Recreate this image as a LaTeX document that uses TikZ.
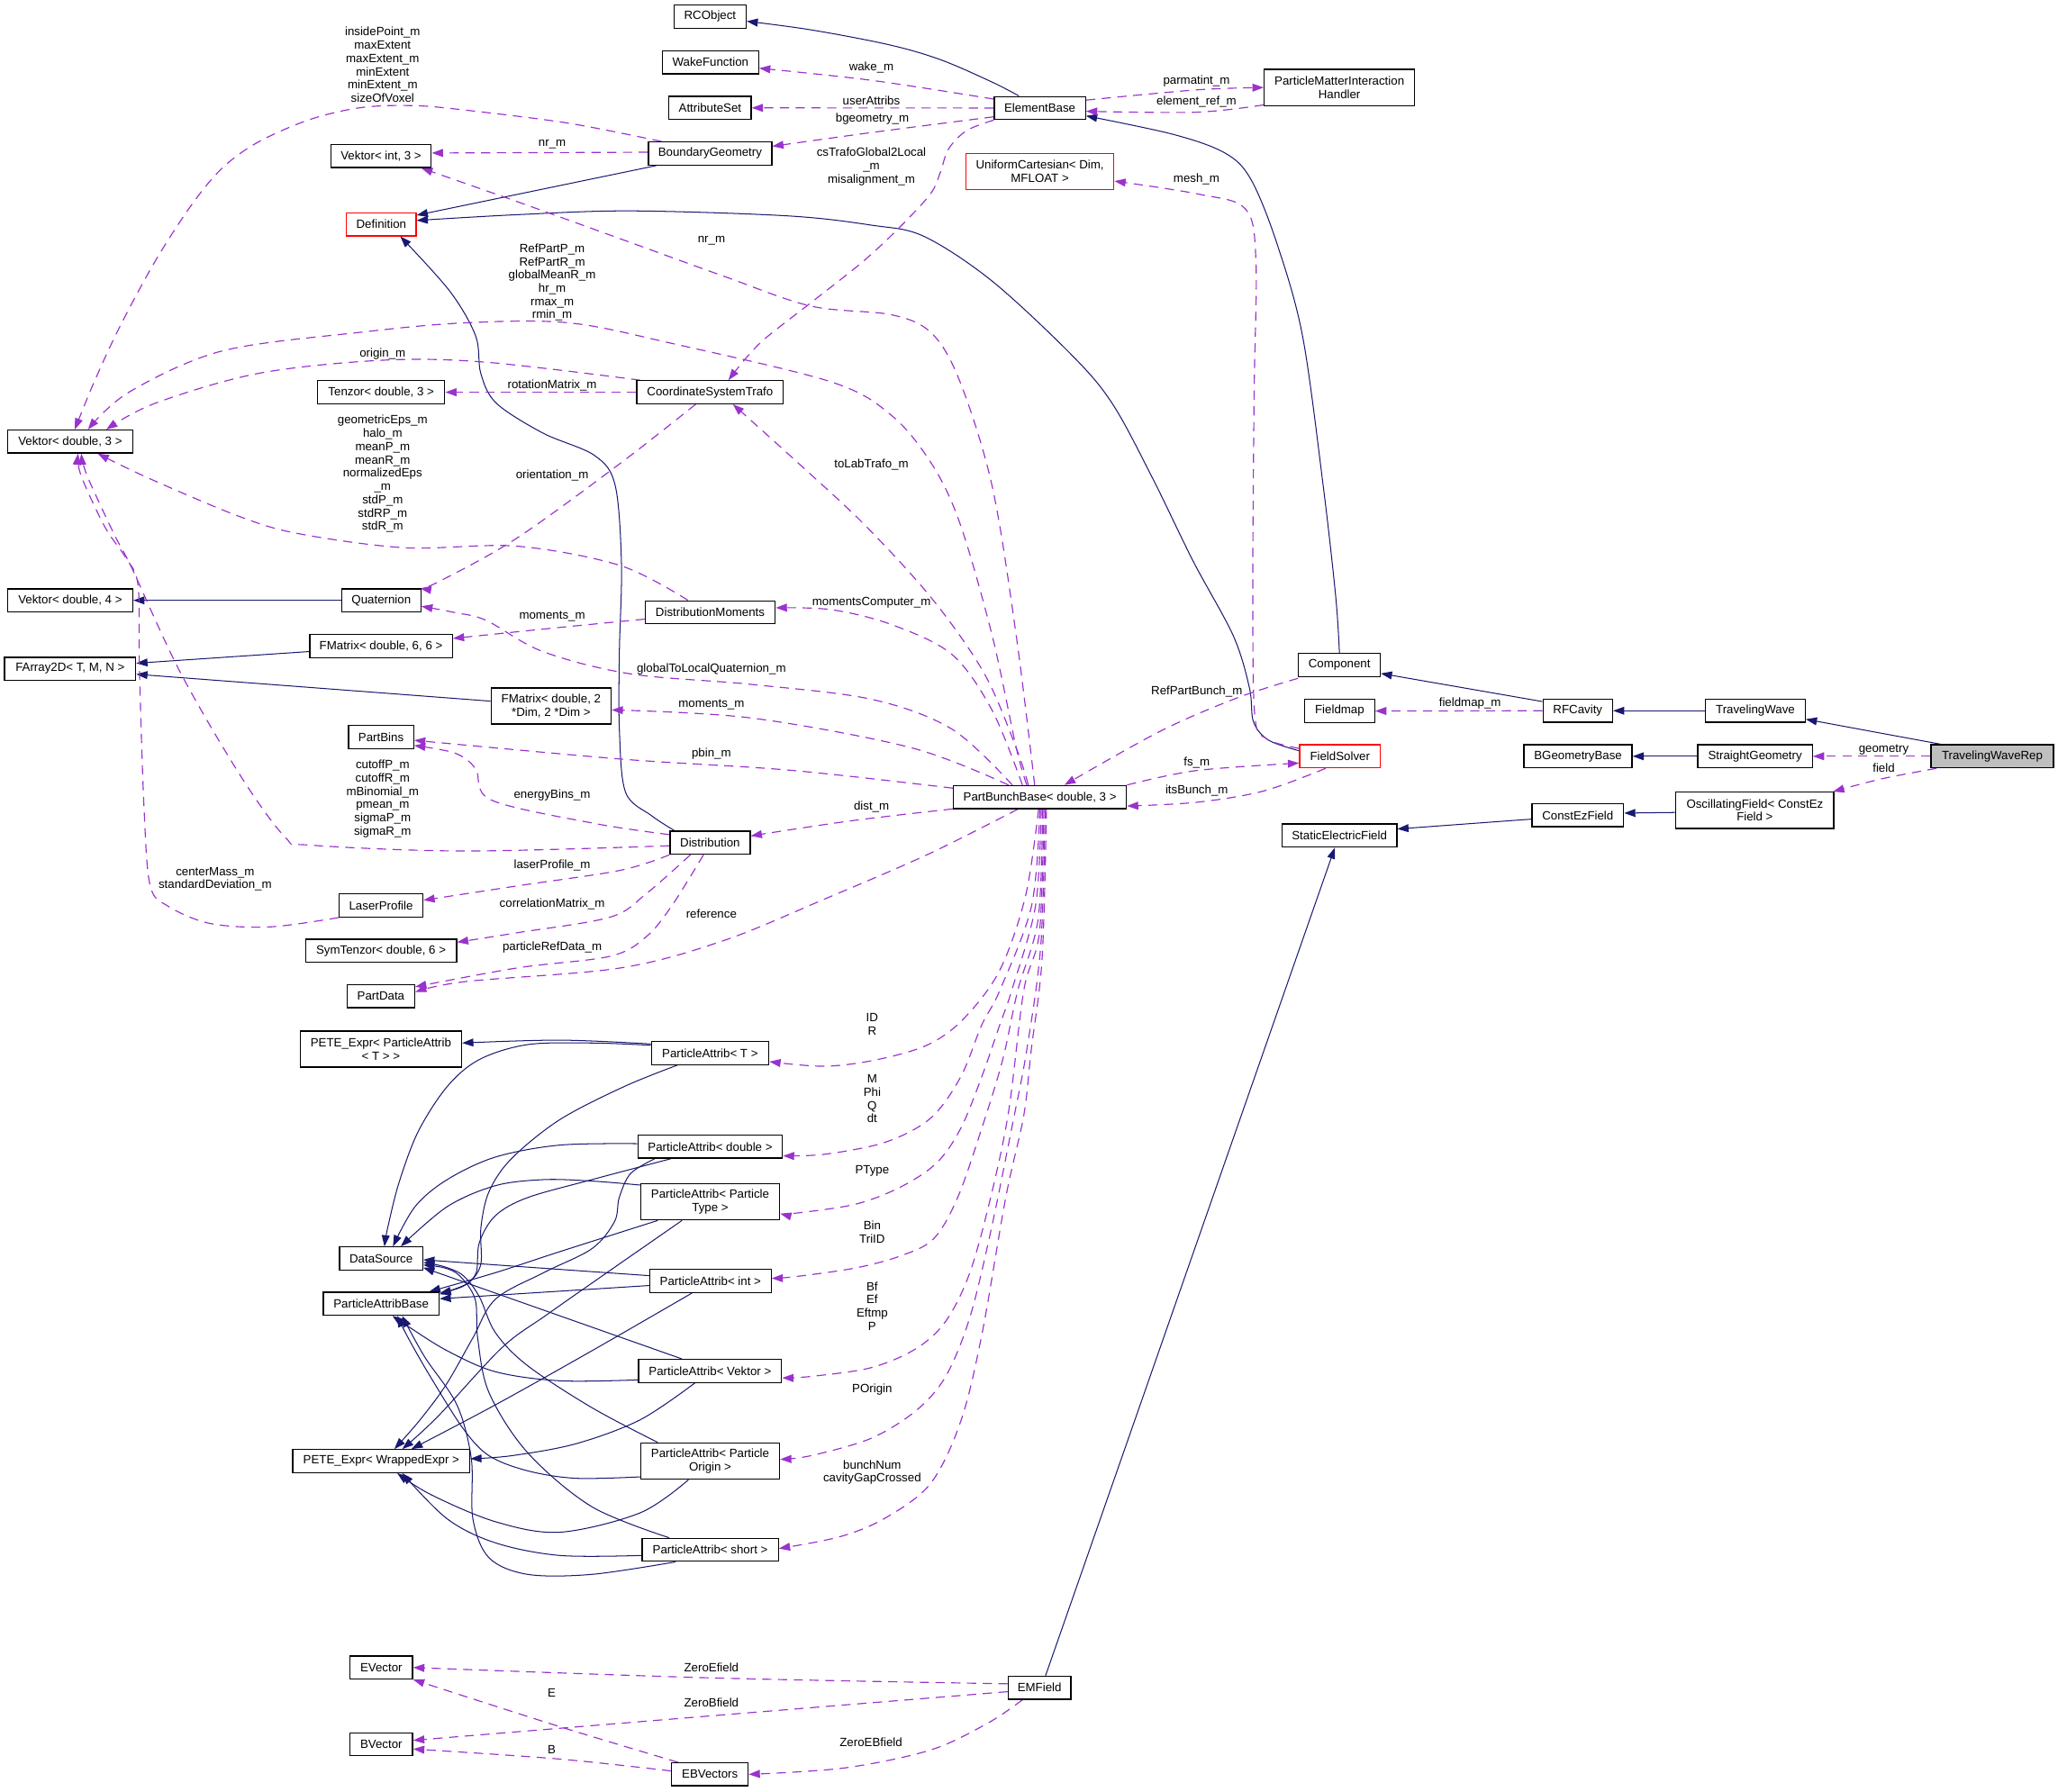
\documentclass[tikz,border=0pt]{standalone}
\usepackage{fontspec}
\setmainfont{Liberation Sans}
\usetikzlibrary{arrows.meta,calc}
\definecolor{navy}{HTML}{191970}
\definecolor{orch}{HTML}{9A32CD}
\definecolor{grayfill}{HTML}{BFBFBF}
\newcommand\dxfont{\fontsize{9.12}{10.1}\selectfont}
\pgfdeclarelayer{edgelayer}
\pgfdeclarelayer{bglayer}
\pgfsetlayers{bglayer,edgelayer,main}
\tikzset{
  box/.style={draw=black, line width=0.9pt, fill=white, inner sep=0pt, minimum height=17.5pt, align=center, font=\dxfont},
  boxtwo/.style={box, minimum height=27.6pt},
  redbox/.style={box, draw=red},
  redboxtwo/.style={boxtwo, draw=red},
  lbl/.style={inner sep=0pt, align=center, font=\dxfont},
  inh/.style={draw=navy, line width=0.7pt, -{Triangle[length=8.5pt,width=6pt]}},
  dep/.style={draw=orch, line width=0.8pt, dash pattern=on 7pt off 5pt, -{Triangle[length=8.5pt,width=6pt]}},
  sm/.style={smooth, tension=0.55}
}
\begin{document}
\begin{tikzpicture}[x=1pt,y=-1pt]
\begin{pgfonlayer}{bglayer}
\fill[white] (0,0) rectangle (1568,1365);
\end{pgfonlayer}
\useasboundingbox (0,0) rectangle (1568,1365);

% ---------------- nodes ----------------
\node[box, minimum width=54.8pt] (rco) at (541,12.7) {RCObject};
\node[box, minimum width=73.3pt] (wake) at (541.3,47.5) {WakeFunction};
\node[box, minimum width=62.6pt] (attr) at (541,82.2) {AttributeSet};
\node[box, minimum width=94pt] (bgeo) at (541,117) {BoundaryGeometry};
\node[box, minimum width=69.4pt] (eb) at (792.3,82.3) {ElementBase};
\node[boxtwo, minimum width=114.6pt] (pmih) at (1020.5,66.7) {ParticleMatterInteraction\\Handler};
\node[box, minimum width=76.5pt] (vi3) at (290.3,118.9) {Vektor< int, 3 >};
\node[redbox, minimum width=53pt] (def) at (290.5,171) {Definition};
\node[redboxtwo, minimum width=112.7pt] (uc) at (792.3,130.7) {UniformCartesian< Dim,\\MFLOAT >};
\node[box, minimum width=96.9pt] (ten) at (290.4,298.9) {Tenzor< double, 3 >};
\node[box, minimum width=111.5pt] (cst) at (541,298.9) {CoordinateSystemTrafo};
\node[box, minimum width=95.3pt] (vd3) at (53.5,336.5) {Vektor< double, 3 >};
\node[box, minimum width=95.3pt] (vd4) at (53.5,457.5) {Vektor< double, 4 >};
\node[box, minimum width=60.2pt] (quat) at (290.5,457.5) {Quaternion};
\node[box, minimum width=99pt] (dm) at (541.1,466.6) {DistributionMoments};
\node[box, minimum width=108.7pt] (fm66) at (290.3,492.3) {FMatrix< double, 6, 6 >};
\node[box, minimum width=100pt] (fa) at (53.4,509.6) {FArray2D< T, M, N >};
\node[boxtwo, minimum width=91.4pt] (fm2) at (419.9,538) {FMatrix< double, 2\\ *Dim, 2 *Dim >};
\node[box, minimum width=62.2pt] (comp) at (1020.5,506.7) {Component};
\node[box, minimum width=53pt] (rfc) at (1202.1,541.6) {RFCavity};
\node[box, minimum width=75.9pt] (tw) at (1337.4,541.6) {TravelingWave};
\node[box, minimum width=53.2pt] (fmap) at (1020.7,541.8) {Fieldmap};
\node[redbox, minimum width=61.4pt] (fs) at (1020.9,576.3) {FieldSolver};
\node[box, minimum width=82.3pt] (bgb) at (1202.3,576.3) {BGeometryBase};
\node[box, minimum width=87.2pt] (sg) at (1337.2,576.3) {StraightGeometry};
\node[box, fill=grayfill, minimum width=93.3pt] (twr) at (1517.9,576.3) {TravelingWaveRep};
\node[box, minimum width=49.6pt] (pbins) at (290.3,561.6) {PartBins};
\node[box, minimum width=131.9pt] (pbb) at (792.3,607.4) {PartBunchBase< double, 3 >};
\node[boxtwo, minimum width=120.3pt] (osc) at (1337,617.5) {OscillatingField< ConstEz\\Field >};
\node[box, minimum width=69.8pt] (cez) at (1202.1,621.2) {ConstEzField};
\node[box, minimum width=87.4pt] (sef) at (1020.5,636.7) {StaticElectricField};
\node[box, minimum width=61.1pt] (dist) at (541,642.2) {Distribution};
\node[box, minimum width=63.8pt] (lp) at (290.3,690) {LaserProfile};
\node[box, minimum width=115pt] (sym) at (290.3,724.5) {SymTenzor< double, 6 >};
\node[box, minimum width=51.4pt] (pdata) at (290.2,759.2) {PartData};
\node[boxtwo, minimum width=123pt] (petet) at (290.2,799.4) {PETE\_Expr< ParticleAttrib\\< T > >};
\node[box, minimum width=89.5pt] (pat) at (541,802.5) {ParticleAttrib< T >};
\node[box, minimum width=110pt] (pad) at (541.1,873.8) {ParticleAttrib< double >};
\node[boxtwo, minimum width=105.8pt] (ptype) at (541.1,915.8) {ParticleAttrib< Particle\\Type >};
\node[box, minimum width=63.3pt] (ds) at (290.4,959) {DataSource};
\node[box, minimum width=92.4pt] (pai) at (541.3,976.1) {ParticleAttrib< int >};
\node[box, minimum width=88.3pt] (pab) at (290.4,993.5) {ParticleAttribBase};
\node[box, minimum width=109pt] (pav) at (541,1044.7) {ParticleAttrib< Vektor >};
\node[box, minimum width=134.8pt] (pw) at (290.5,1113.4) {PETE\_Expr< WrappedExpr >};
\node[boxtwo, minimum width=105.8pt] (pao) at (541.1,1113.4) {ParticleAttrib< Particle\\Origin >};
\node[box, minimum width=103.8pt] (pas) at (541.1,1181) {ParticleAttrib< short >};
\node[box, minimum width=47.7pt] (ev) at (290.5,1270.7) {EVector};
\node[box, minimum width=47.7pt] (emf) at (792,1286.1) {EMField};
\node[box, minimum width=47.7pt] (bv) at (290.5,1329.2) {BVector};
\node[box, minimum width=58.2pt] (ebv) at (540.9,1352.1) {EBVectors};

% ---------------- labels ----------------
\node[lbl] (l1) at (663.9,51.5) {wake\_m};
\node[lbl] (l2) at (663.9,76.5) {userAttribs};
\node[lbl] (l3) at (664.6,90.4) {bgeometry\_m};
\node[lbl] (l4) at (911.6,62) {parmatint\_m};
\node[lbl] (l5) at (911.6,77.4) {element\_ref\_m};
\node[lbl] (l6) at (663.9,126.9) {csTrafoGlobal2Local\\\_m\\misalignment\_m};
\node[lbl] (l7) at (911.6,136.5) {mesh\_m};
\node[lbl] (l8) at (420.7,109.8) {nr\_m};
\node[lbl] (l9) at (291.5,49.4) {insidePoint\_m\\maxExtent\\maxExtent\_m\\minExtent\\minExtent\_m\\sizeOfVoxel};
\node[lbl] (l10) at (542.1,183.4) {nr\_m};
\node[lbl] (l11) at (420.7,215.2) {RefPartP\_m\\RefPartR\_m\\globalMeanR\_m\\hr\_m\\rmax\_m\\rmin\_m};
\node[lbl] (l12) at (291.5,269.6) {origin\_m};
\node[lbl] (l13) at (420.7,293.5) {rotationMatrix\_m};
\node[lbl] (l14) at (663.9,353.8) {toLabTrafo\_m};
\node[lbl] (l15) at (291.5,361.2) {geometricEps\_m\\halo\_m\\meanP\_m\\meanR\_m\\normalizedEps\\\_m\\stdP\_m\\stdRP\_m\\stdR\_m};
\node[lbl] (l16) at (420.7,362) {orientation\_m};
\node[lbl] (l17) at (664,458.9) {momentsComputer\_m};
\node[lbl] (l18) at (420.7,469.7) {moments\_m};
\node[lbl] (l19) at (542,510.2) {globalToLocalQuaternion\_m};
\node[lbl] (l20) at (911.8,526.9) {RefPartBunch\_m};
\node[lbl] (l21) at (1120,536) {fieldmap\_m};
\node[lbl] (l22) at (542,537.3) {moments\_m};
\node[lbl] (l23) at (1435.2,571.1) {geometry};
\node[lbl] (l24) at (542,574.5) {pbin\_m};
\node[lbl] (l25) at (911.8,581.2) {fs\_m};
\node[lbl] (l26) at (1435.2,585.1) {field};
\node[lbl] (l27) at (291.5,608.7) {cutoffP\_m\\cutoffR\_m\\mBinomial\_m\\pmean\_m\\sigmaP\_m\\sigmaR\_m};
\node[lbl] (l28) at (911.8,602.8) {itsBunch\_m};
\node[lbl] (l29) at (420.7,606) {energyBins\_m};
\node[lbl] (l30) at (664,614.8) {dist\_m};
\node[lbl] (l31) at (420.7,659.3) {laserProfile\_m};
\node[lbl] (l32) at (163.9,669.9) {centerMass\_m\\standardDeviation\_m};
\node[lbl] (l33) at (420.7,688.8) {correlationMatrix\_m};
\node[lbl] (l34) at (542,696.2) {reference};
\node[lbl] (l35) at (420.7,721.8) {particleRefData\_m};
\node[lbl] (l36) at (664.5,780.5) {ID\\R};
\node[lbl] (l37) at (664.5,837.4) {M\\Phi\\Q\\dt};
\node[lbl] (l38) at (664.5,892.4) {PType};
\node[lbl] (l39) at (664.5,938.8) {Bin\\TriID};
\node[lbl] (l40) at (664.5,995.2) {Bf\\Ef\\Eftmp\\P};
\node[lbl] (l41) at (664.5,1058.6) {POrigin};
\node[lbl] (l42) at (664.5,1122) {bunchNum\\cavityGapCrossed};
\node[lbl] (l43) at (542,1270.6) {ZeroEfield};
\node[lbl] (l44) at (420.3,1290) {E};
\node[lbl] (l45) at (542,1297.3) {ZeroBfield};
\node[lbl] (l46) at (663.6,1327.7) {ZeroEBfield};
\node[lbl] (l47) at (420.3,1333) {B};

\begin{pgfonlayer}{edgelayer}
% ---------------- inheritance (solid) ----------------
\draw[inh] plot[sm] coordinates {([xshift=-16pt]eb.north) (756,62.6) (716.6,45.5) (677.3,34.1) (618.2,22.8) ([yshift=-3.5pt]rco.east)};
\draw[inh] ([xshift=-41pt]bgeo.south) -- ([yshift=7pt]def.east);
\draw[inh] plot[sm] coordinates {([yshift=4.2pt]fs.west) (966.5,564) (955,550) (952,524.4) (939.7,484.6) (909.1,427.7) (878.5,365.1) (847.9,308.2) (817.2,271.2) (756,214.3) (703.9,180.1) (664.1,171.6) (600,164.5) (480.3,160.7) (393.9,163.6) ([yshift=3pt]def.east)};
\draw[inh] plot[sm] coordinates {([xshift=-27pt]dist.north) (496.3,621.5) (476.6,603.7) (471.9,556) (471.9,496.5) (473.5,430) (468.7,369.9) (453,347.1) (413.6,330) (378.1,307.2) (366.3,284.5) (362.4,256) (342.7,221.9) ([xshift=14.5pt]def.south)};
\draw[inh] plot[sm] coordinates {(comp.north) (1017.7,454.9) (1008.1,369.9) (992.4,256) (972.7,185) (953,136.6) (933.3,116.6) (893.9,102.4) ([yshift=-6pt]eb.east)};
\draw[inh] ([yshift=7pt]rfc.west) -- ([yshift=-6.5pt]comp.east);
\draw[inh] (tw.west) -- (rfc.east);
\draw[inh] ([xshift=-39.3pt]twr.north) -- ([yshift=-6.5pt]tw.east);
\draw[inh] (sg.west) -- (bgb.east);
\draw[inh] ([yshift=-1.6pt]osc.west) -- ([yshift=1.6pt]cez.east);
\draw[inh] ([yshift=-3pt]cez.west) -- ([yshift=5pt]sef.east);
\draw[inh] ([xshift=4.6pt]emf.north) -- ([xshift=-3.5pt]sef.south);
\draw[inh] (quat.west) -- (vd4.east);
\draw[inh] ([yshift=-4.2pt]fm66.west) -- ([yshift=4.2pt]fa.east);
\draw[inh] ([yshift=3.7pt]fm2.west) -- ([yshift=-4.2pt]fa.east);
% particle attrib family
\draw[inh] plot[sm] coordinates {([yshift=7pt]pat.west) (426.5,792.6) ([yshift=4.6pt]petet.east)};
\draw[inh] plot[sm] coordinates {([yshift=6pt]pat.west) (451,794.8) (402,796) (365.2,807.4) (340.7,828) (318.6,862.3) (304,901.2) (295.4,935.5) ([xshift=2.5pt]ds.north)};
\draw[inh] plot[sm] coordinates {([xshift=-25pt]pat.south) (475.5,828) (426.5,853.2) (389.7,882.9) (372.6,908) (366.4,935.5) (366.4,963) (357.9,976.7) (343.2,983.5) ([yshift=7.2pt]pab.east)};
\draw[inh] plot[sm] coordinates {([yshift=2.3pt]pad.west) (426.5,872.6) (377.5,881.7) (340.7,898.9) (316.2,919.5) ([xshift=9pt]ds.north)};
\draw[inh] plot[sm] coordinates {([xshift=-30pt]pad.south) (451,898.9) (402,912.6) (377.5,926.3) (365.2,946.9) (362.8,969.8) (353,980.1) ([yshift=8pt]pab.east)};
\draw[inh] plot[sm] coordinates {([xshift=-42.3pt]pad.south) (480.4,894.3) (471.8,912.6) (468.2,930.9) (451,951.5) (414.2,969.8) (377.5,990) (360,1020) (340,1055) (320,1082) ([xshift=10pt]pw.north)};
\draw[inh] plot[sm] coordinates {([yshift=-1.5pt]ptype.north west) (451,900) (414.2,898.9) (377.5,903.5) (340.7,919.5) ([xshift=15pt]ds.north)};
\draw[inh] plot[sm] coordinates {([xshift=-40pt]ptype.south) (426.5,953.8) (377.5,969.8) ([xshift=-8pt]pab.north east)};
\draw[inh] plot[sm] coordinates {([xshift=-21.5pt]ptype.south) (465.7,967.5) (416.7,1001.8) (382.4,1027) (333.4,1079.6) ([xshift=16pt]pw.north)};
\draw[inh] ([yshift=4pt]pai.west) -- ([yshift=-1pt]ds.east);
\draw[inh] ([yshift=-3.5pt]pai.west) -- ([yshift=3.8pt]pab.east);
\draw[inh] plot[sm] coordinates {([xshift=-14pt]pai.south) (451,1029.3) (377.5,1070.5) ([xshift=23pt]pw.north)};
\draw[inh] ([xshift=-21.5pt]pav.north) -- ([yshift=-7pt]ds.east);
\draw[inh] plot[sm] coordinates {([yshift=-6.8pt]pav.west) (426.5,1052.2) (377.5,1045.3) (340.7,1029.3) (311.3,1011) ([xshift=8.6pt]pab.south)};
\draw[inh] plot[sm] coordinates {([xshift=-11.6pt]pav.south) (487.8,1081.9) (438.7,1100.2) (389.7,1109.3) ([yshift=1.8pt]pw.east)};
\draw[inh] plot[sm] coordinates {([xshift=-40pt]pao.north) (451,1072.7) (402,1040.7) (377.5,1015.6) (365.2,988.1) (353,972.1) (338.3,965.2) ([yshift=-3pt]ds.east)};
\draw[inh] plot[sm] coordinates {([yshift=-12pt]pao.west) (438.7,1126.5) (402,1120.8) (372.6,1109.3) (353,1088.8) (328.4,1049.9) (311.3,1020.1) ([xshift=12.3pt]pab.south)};
\draw[inh] plot[sm] coordinates {([xshift=-16.6pt]pao.south) (487.8,1152.8) (426.5,1167.6) (377.5,1159.6) (328.4,1139) ([xshift=12.2pt]pw.south)};
\draw[inh] plot[sm] coordinates {([xshift=-31.3pt]pas.north) (451,1148.2) (402,1107) (372.6,1061.3) (364,1020.1) (362,990) (350,972) (338,966) ([yshift=-5pt]ds.east)};
\draw[inh] plot[sm] coordinates {([xshift=-26.4pt]pas.south) (451,1199.7) (402,1199.7) (372.6,1187.1) (360.3,1157.4) (359.1,1111.6) (348.1,1070.5) (323.5,1033.9) ([xshift=16pt]pab.south)};
\draw[inh] plot[sm] coordinates {([yshift=-4.3pt]pas.west) (426.5,1185.3) (377.5,1175.7) (340.7,1157.4) ([xshift=16pt]pw.south)};

% ---------------- usage (dashed) ----------------
\draw[dep] plot[sm] coordinates {([yshift=6.8pt]eb.west) (663.9,61.2) ([yshift=-4.5pt]wake.east)};
\draw[dep] (eb.west) -- (attr.east);
\draw[dep] plot[sm] coordinates {([yshift=-6.7pt]eb.west) (663.9,101) ([yshift=5.5pt]bgeo.east)};
\draw[dep] plot[sm] coordinates {([yshift=6pt]eb.east) (911.6,68.5) (pmih.west)};
\draw[dep] plot[sm] coordinates {([yshift=1pt]pmih.south west) (911.6,85.5) ([yshift=-2.5pt]eb.east)};
\draw[dep] plot[sm] coordinates {(eb.south west) (736.3,99.6) (722.5,113.8) (716.6,130.9) (708.8,147.9) (685.1,173.5) (657.6,199.2) (618.2,230.4) (578.8,261.7) ([xshift=14pt]cst.north)};
\draw[dep] ([yshift=1pt]bgeo.west) -- ([yshift=2.3pt]vi3.east);
\draw[dep] plot[sm] coordinates {([xshift=-37pt]bgeo.north) (433.3,93.9) (354.5,83.9) (315.1,80.5) (275.7,81.9) (236.3,91) (197,108.1) (169.4,128) (145.7,156.5) (118.2,199.1) (90.6,250.3) (70.9,293) ([xshift=3.5pt]vd3.north)};
\draw[dep] plot[sm] coordinates {([xshift=-4pt]pbb.north) (774.3,484.6) (756,370.8) (731.5,291.1) (710,254.1) (679.4,239.9) (617.6,233.2) (551.5,210.5) (472.7,182) (393.9,153.6) ([xshift=30.7pt]vi3.south)};
\draw[dep] plot[sm] coordinates {([xshift=-10pt]pbb.north) (774.3,570) (756,484.6) (731.5,399.2) (710,353.7) (679.4,316.7) (633.5,291.1) (512,261.7) (433.3,246) (354.5,246) (275.7,253.1) (169.4,267.4) (98.5,298.7) ([xshift=13.5pt]vd3.north)};
\draw[dep] plot[sm] coordinates {([xshift=3pt]cst.north west) (370.3,276) (291.5,274.5) (197,284.5) (118.2,307.3) ([xshift=27.5pt]vd3.north)};
\draw[dep] (cst.west) -- (ten.east);
\draw[dep] plot[sm] coordinates {([xshift=-11pt]cst.south) (472.7,353) (393.9,410) (334.8,443) ([xshift=-1pt]quat.north east)};
\draw[dep] plot[sm] coordinates {([xshift=-17pt]dm.north) (472.7,431) (393.9,416.2) (308.7,417.4) (228.7,406.9) (183,393.8) (114.4,364.9) ([xshift=21pt]vd3.south)};
\draw[dep] plot[sm] coordinates {([yshift=-5.2pt]dm.west) (420.7,478.7) ([yshift=5.8pt]fm66.east)};
\draw[dep] plot[sm] coordinates {([xshift=-8.8pt]pbb.north) (774.3,570) (749.8,513) (710,456.1) (658,399.2) (602.8,348) ([xshift=17.4pt]cst.south)};
\draw[dep] plot[sm] coordinates {([xshift=-13.3pt]pbb.north) (756,541.5) (725.4,498.8) (679.4,476) (633.5,464.6) ([yshift=3.4pt]dm.east)};
\draw[dep] plot[sm] coordinates {([xshift=-21pt]pbb.north) (725.4,555.7) (664.1,532.9) (572.2,521.5) (480.3,513.5) (413.6,496.5) (370.3,472.7) (346.6,466.8) ([yshift=-4.5pt]quat.east)};
\draw[dep] plot[sm] coordinates {([xshift=-24pt]pbb.north) (694.7,569.9) (572.2,547.1) ([yshift=-3pt]fm2.east)};
\draw[dep] plot[sm] coordinates {([yshift=6.8pt]pbb.west) (602.8,587) (472.7,578.4) ([yshift=-2.5pt]pbins.east)};
\draw[dep] plot[sm] coordinates {([yshift=-9pt]pbb.west) (647.5,625.6) ([yshift=5.2pt]dist.east)};
\draw[dep] plot[sm] coordinates {([xshift=-16.8pt]pbb.south) (706.6,651.2) (627.8,685.3) (551.5,716.7) (472.7,737.6) (354.5,748) ([yshift=3.2pt]pdata.east)};
\draw[dep] plot[sm] coordinates {([yshift=-1pt]comp.south west) (942.9,531.7) (883.8,557.3) ([xshift=18.7pt]pbb.north)};
\draw[dep] (rfc.west) -- (fmap.east);
\draw[dep] plot[sm] coordinates {([yshift=6pt]fs.west) (965,563) (956,545) (954.5,450) (955.5,300) (956.9,199) (949,159.3) (913.6,148) ([yshift=-7.3pt]uc.east)};
\draw[dep] plot[sm] coordinates {(pbb.north east) (911.4,587.2) ([yshift=-5.2pt]fs.west)};
\draw[dep] plot[sm] coordinates {([xshift=-10.9pt]fs.south) (962.6,602.8) (911.4,611.4) ([yshift=-6.8pt]pbb.east)};
\draw[dep] (twr.west) -- (sg.east);
\draw[dep] plot[sm] coordinates {([xshift=-42.5pt]twr.south) (1433.6,593.5) ([xshift=-1pt]osc.north east)};
\draw[dep] plot[sm] coordinates {([yshift=-2.3pt]dist.west) (354.5,648.5) (236.3,644) (217.3,638) (183,590.8) (137.2,512) (100.6,433.2) (86.9,407) (66.3,362.3) ([xshift=8.5pt]vd3.south)};
\draw[dep] plot[sm] coordinates {(lp.south west) (205.8,706.3) (160,703.7) (128,690.5) (114.4,674.8) (109.8,617) (106.3,512) (105.2,446.3) (96,425.3) (80,401.7) (61.7,362.3) ([xshift=6pt]vd3.south)};
\draw[dep] plot[sm] coordinates {([yshift=-3pt]dist.north west) (453,627.5) (374.2,609.6) (362.4,585.8) (346.6,573.9) ([yshift=-6.5pt]pbins.east)};
\draw[dep] plot[sm] coordinates {(dist.south west) (472.7,663.2) (393.9,675.1) ([yshift=4pt]lp.east)};
\draw[dep] plot[sm] coordinates {([xshift=-15pt]dist.south) (492.4,681) (464.8,698.9) (393.9,710.8) ([yshift=6.5pt]sym.east)};
\draw[dep] plot[sm] coordinates {([xshift=-5pt]dist.south) (512,690) (492.4,713.8) (464.8,728.7) (393.9,737.6) ([yshift=7.2pt]pdata.east)};
\draw[dep] plot[sm] coordinates {([xshift=-1pt]pbb.south) (781.4,682.5) (761.7,739.4) (734.1,776.4) (706.6,796.3) (667.2,807.7) (627.8,812.5) ([yshift=-6.5pt]pat.east)};
\draw[dep] plot[sm] coordinates {(pbb.south) (786,690) (761.7,754.8) (748,781) (732,820.5) (709.1,852) (674.8,870.3) (629,879.5) ([yshift=-7pt]pad.east)};
\draw[dep] plot[sm] coordinates {([xshift=1pt]pbb.south) (789,690) (770.8,754.8) (761.7,781) (748,820.5) (732,859.8) (713.7,886.1) (686.2,904.5) (651.9,917.6) (606.2,924.5) ([yshift=-9pt]ptype.east)};
\draw[dep] plot[sm] coordinates {([xshift=2pt]pbb.south) (791,700) (775.4,754.8) (764,807.3) (748,859.8) (729.7,912.4) (711.4,943.9) (686.2,957) (651.9,966.2) (606.2,972.8) ([yshift=2pt]pai.east)};
\draw[dep] plot[sm] coordinates {([xshift=3pt]pbb.south) (792,710) (780,754.8) (768.5,846.7) (754.8,912.4) (738.8,970.1) (720.5,1006.9) (697.6,1027.9) (663.3,1042.3) (617.6,1048.9) ([yshift=-5.3pt]pav.east)};
\draw[dep] plot[sm] coordinates {([xshift=4pt]pbb.south) (793,720) (782.3,800) (770.8,859.8) (754.8,938.6) (738.8,1004.3) (720.5,1048.9) (697.6,1075.2) (663.3,1096.2) (617.6,1109.3) ([yshift=1.4pt]pao.east)};
\draw[dep] plot[sm] coordinates {([xshift=5pt]pbb.south) (794,730) (785.7,800) (780,850) (766.3,912.4) (748,1017.4) (732,1083) (709.1,1130.3) (674.8,1156.6) (640,1171) ([yshift=1pt]pas.east)};
\draw[dep] plot[sm] coordinates {([yshift=3pt]emf.west) (542,1278.6) (ev.east)};
\draw[dep] plot[sm] coordinates {([yshift=-3pt]emf.west) (542,1307.5) ([yshift=3pt]bv.east)};
\draw[dep] plot[sm] coordinates {([xshift=-13pt]emf.south) (752.9,1312.9) (709.1,1333.5) (643.5,1347.2) (ebv.east)};
\draw[dep] plot[sm] coordinates {([xshift=-24.3pt]ebv.north) (424.7,1315.2) (ev.south east)};
\draw[dep] plot[sm] coordinates {([yshift=2.6pt]ebv.west) (424.7,1340.3) ([yshift=-3.6pt]bv.east)};
\end{pgfonlayer}
\end{tikzpicture}
\end{document}
